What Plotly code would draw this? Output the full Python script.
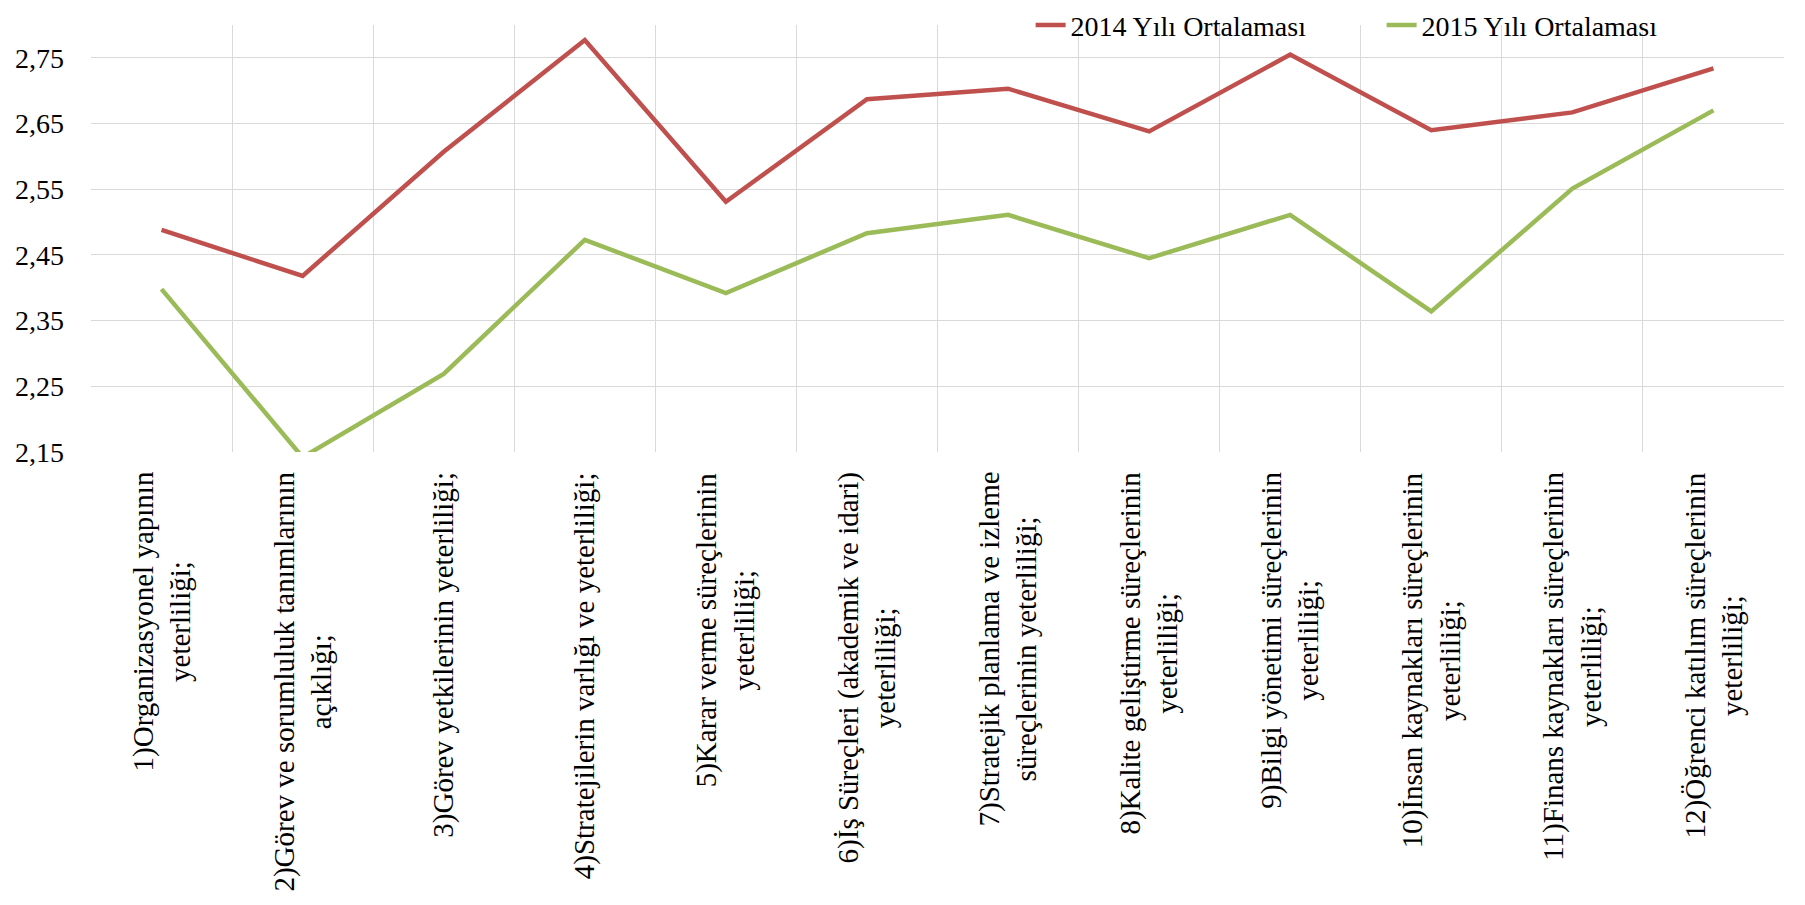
import plotly.graph_objects as go

categories = [
    "1)Organizasyonel yapının<br>yeterliliği;",
    "2)Görev ve sorumluluk tanımlarının<br>açıklığı;",
    "3)Görev yetkilerinin yeterliliği;",
    "4)Stratejilerin varlığı ve yeterliliği;",
    "5)Karar verme süreçlerinin<br>yeterliliği;",
    "6)İş Süreçleri (akademik ve idari)<br>yeterliliği;",
    "7)Stratejik planlama ve izleme<br>süreçlerinin yeterliliği;",
    "8)Kalite geliştirme süreçlerinin<br>yeterliliği;",
    "9)Bilgi yönetimi süreçlerinin<br>yeterliliği;",
    "10)İnsan kaynakları süreçlerinin<br>yeterliliği;",
    "11)Finans kaynakları süreçlerinin<br>yeterliliği;",
    "12)Öğrenci katılım süreçlerinin<br>yeterliliği;",
]
series_2014 = [2.488, 2.418, 2.607, 2.777, 2.531, 2.687, 2.703, 2.638, 2.755, 2.640, 2.667, 2.734]
series_2015 = [2.398, 2.142, 2.269, 2.473, 2.392, 2.483, 2.511, 2.445, 2.511, 2.364, 2.551, 2.670]
name_2014 = "2014 Yılı Ortalaması"
name_2015 = "2015 Yılı Ortalaması"
y_ticks = [2.15, 2.25, 2.35, 2.45, 2.55, 2.65, 2.75]

FONT = "Liberation Serif, Times New Roman, serif"
idx = list(range(len(categories)))

fig = go.Figure()
fig.add_trace(go.Scatter(x=idx, y=series_2014, mode="lines", name=name_2014,
                         line=dict(color="#C0504D", width=4.5)))
fig.add_trace(go.Scatter(x=idx, y=series_2015, mode="lines", name=name_2015,
                         line=dict(color="#9BBB59", width=4.5)))

for i, lab in enumerate(categories):
    fig.add_annotation(x=i, xref="x", y=-0.042, yref="paper", text=lab,
                       textangle=-90, showarrow=False, xanchor="center", yanchor="top",
                       align="center", font=dict(family=FONT, size=29, color="black"))

fig.update_layout(
    width=1805, height=905,
    margin=dict(l=83, r=29, t=17, b=461, autoexpand=False),
    paper_bgcolor="white", plot_bgcolor="white",
    separators=",.",
    font=dict(family=FONT, size=28, color="black"),
    showlegend=True,
    legend=dict(orientation="h", x=0.555, xanchor="left", y=1.058, yanchor="top",
                font=dict(family=FONT, size=28, color="black"),
                bgcolor="rgba(0,0,0,0)", entrywidth=306, entrywidthmode="pixels"),
    xaxis=dict(range=[-0.5, len(categories) - 0.5], tick0=-0.5, dtick=1,
               showticklabels=False, showgrid=True, gridcolor="#D9D9D9", gridwidth=1.3,
               zeroline=False, showline=False, ticks=""),
    yaxis=dict(range=[2.15, 2.80], tickvals=y_ticks, tickformat=".2f",
               showgrid=True, gridcolor="#D9D9D9", gridwidth=1.3, zeroline=False,
               showline=False, ticks="", ticklabelstandoff=26,
               tickfont=dict(family=FONT, size=28, color="black")),
)

fig.write_html("out.html")
